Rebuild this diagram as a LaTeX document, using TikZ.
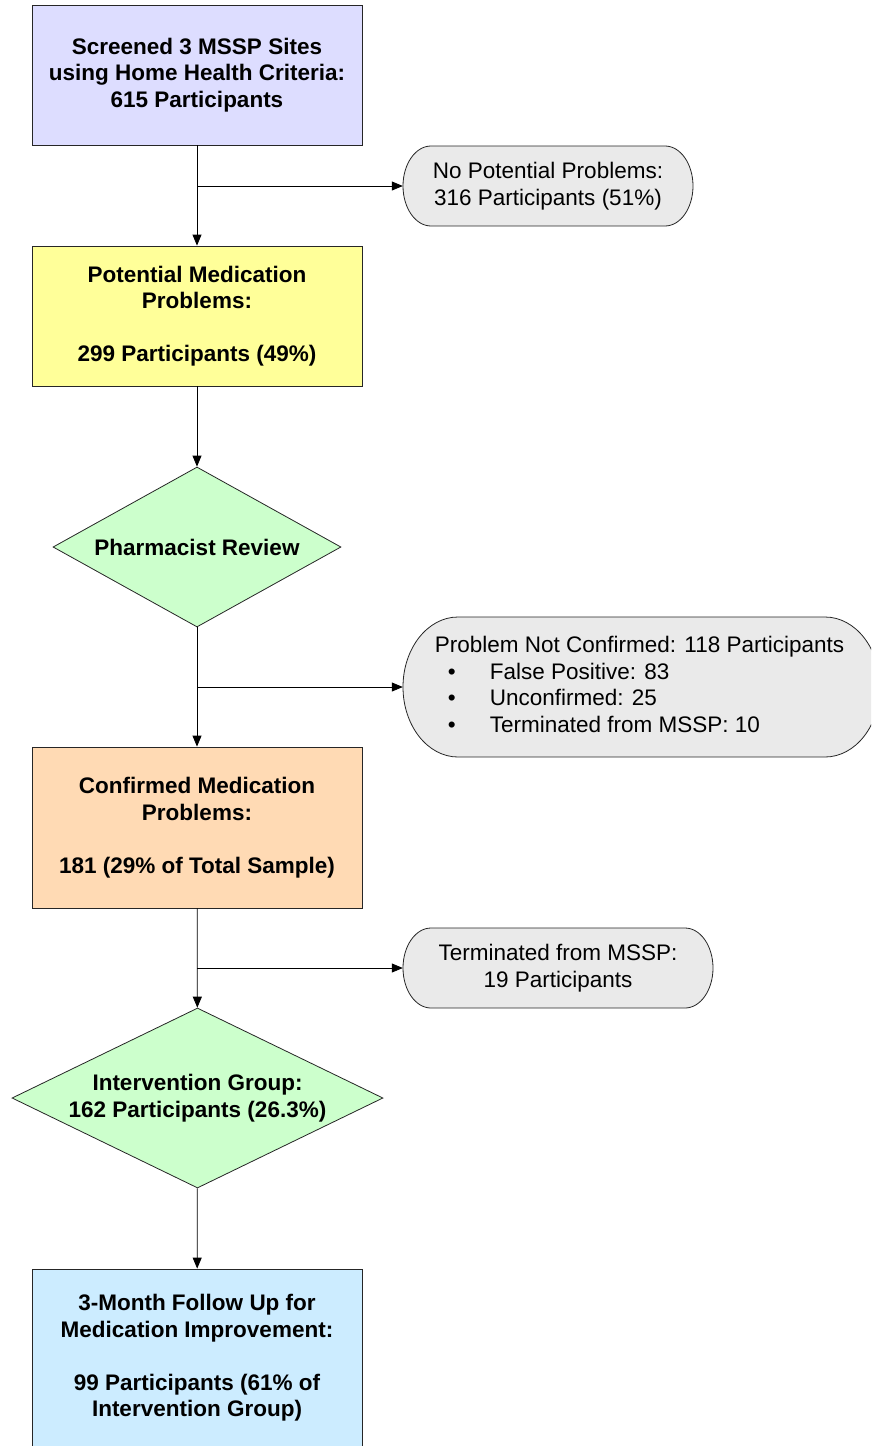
\documentclass[tikz,border=0pt]{standalone}
\usepackage{fontspec}
\setmainfont{Liberation Sans}
\usepackage{tikz}
\usetikzlibrary{calc,shapes.geometric,arrows.meta}
\definecolor{screenblue}{RGB}{221,221,255}
\definecolor{potyellow}{RGB}{255,255,153}
\definecolor{reviewgreen}{RGB}{204,255,204}
\definecolor{confpeach}{RGB}{255,218,180}
\definecolor{followblue}{RGB}{204,236,255}
\definecolor{ovalgrey}{RGB}{234,234,234}
\newcommand{\tikzOvalNode}[6]{
  \path[draw=black!85,line width=0.8pt,fill=ovalgrey] ($(#2)+(-#3+#5,#4)$) -- ($(#2)+(#3-#5,#4)$)
    arc[start angle=90,end angle=-90,x radius=#5,y radius=#4] -- ($(#2)+(-#3+#5,-#4)$)
    arc[start angle=270,end angle=90,x radius=#5,y radius=#4] -- cycle;
  \node[ovaltext,minimum width=2*#3,minimum height=2*#4] (#1) at (#2) {#6};
}
\newcommand{\bulletmark}{\hspace*{13pt}\makebox[42pt][l]{\textbullet}}
\tikzset{
  stagebox/.style={draw=black!85,line width=0.8pt,rectangle,minimum width=330,minimum height=140,
    inner sep=0pt,align=center,font=\fontsize{22.5}{26.5}\selectfont\bfseries},
  reviewdiamond/.style={draw=black!85,line width=0.8pt,diamond,fill=reviewgreen,inner sep=0pt,
    align=center,font=\fontsize{22.5}{26.5}\selectfont\bfseries},
  ovaltext/.style={inner sep=0pt,align=center,font=\fontsize{22.5}{26.5}\selectfont},
  flow/.style={draw=black,line width=0.8pt,->}
}
\begin{document}
\begin{tikzpicture}[x=1pt,y=1pt,>={Triangle[length=11pt,width=9pt]}]
  \useasboundingbox (0,0) rectangle (871,-1446);
  \clip (0,0) rectangle (871,-1446);

  \node [stagebox,fill=screenblue] (screen) at (197,-75) {Screened 3 MSSP Sites\\using Home Health Criteria:\\615 Participants};
  \node [stagebox,fill=potyellow] (potential) at (197,-316) {Potential Medication\\Problems:\\[26.5pt]299 Participants (49\%)};
  \node [reviewdiamond,aspect=1.8,minimum width=288,minimum height=160] (review) at (197,-547) {Pharmacist Review};
  \node [stagebox,fill=confpeach,minimum height=161] (confirmed) at (197,-827.5) {Confirmed Medication\\Problems:\\[26.5pt]181 (29\% of Total Sample)};
  \node [reviewdiamond,aspect=2.06,minimum width=371,minimum height=180] (group) at (197.5,-1098) {Intervention Group:\\162 Participants (26.3\%)};
  \node [stagebox,fill=followblue,minimum height=178] (followup) at (197,-1358) {3-Month Follow Up for\\Medication Improvement:\\[26.5pt]99 Participants (61\% of\\Intervention Group)};

  \tikzOvalNode{noprob}{548,-186}{145}{40}{28}{No Potential Problems:\\316 Participants (51\%)}
  \tikzOvalNode{notconf}{641.5,-687}{238.5}{70}{55}{\begin{tabular}{@{}l@{}}Problem Not Confirmed: 118 Participants\hspace*{4pt}\\
    \bulletmark False Positive: 83\\
    \bulletmark Unconfirmed: 25\\
    \bulletmark Terminated from MSSP: 10\end{tabular}}
  \tikzOvalNode{termin}{558,-968}{155}{40}{28}{Terminated from MSSP:\\19 Participants}

  \coordinate (split1) at (screen.south |- noprob.west);
  \coordinate (split2) at (review.south |- notconf.west);
  \coordinate (split3) at (confirmed.south |- termin.west);

  \draw[flow] (screen) -- (potential);
  \draw[flow] (split1) -- (noprob.west);
  \draw[flow] (potential) -- (review);
  \draw[flow] (review) -- (confirmed);
  \draw[flow] (split2) -- (notconf.west);
  \draw[flow] (confirmed) -- (group);
  \draw[flow] (split3) -- (termin.west);
  \draw[flow] (group) -- (followup);
\end{tikzpicture}
\end{document}
